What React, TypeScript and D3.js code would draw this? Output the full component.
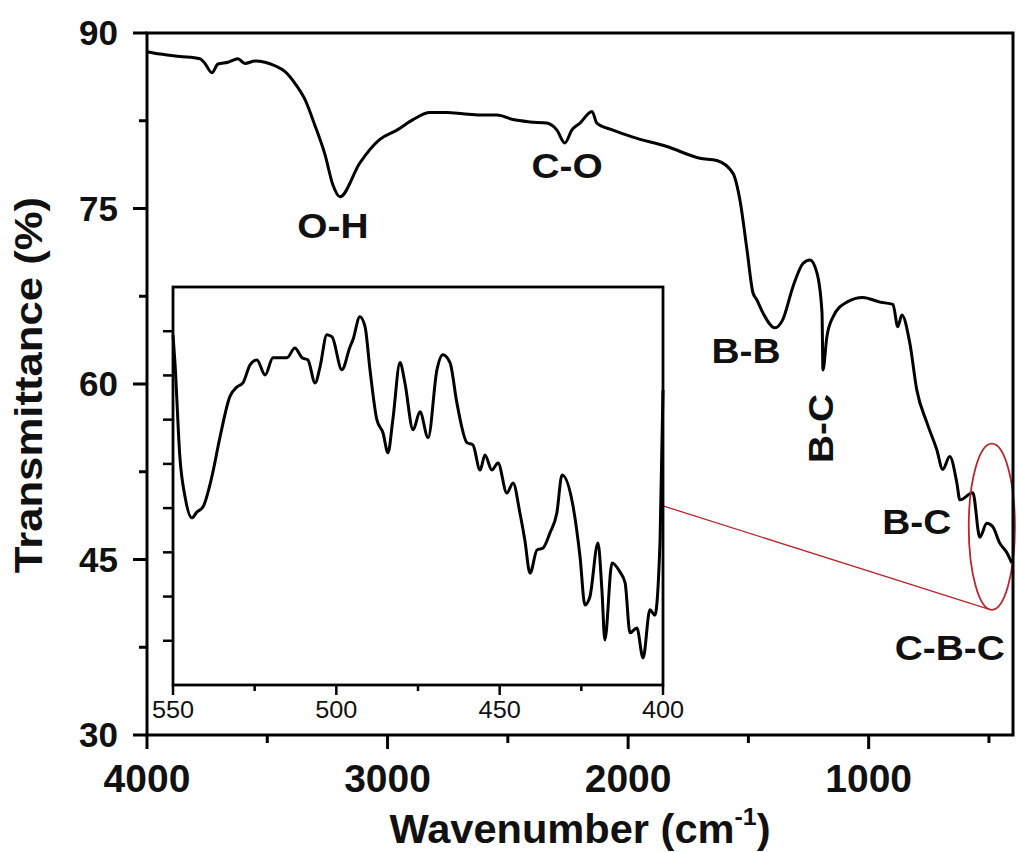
import React from 'react';
import * as d3 from 'd3';

// main FTIR spectrum
const wavenumber = [4000, 3946, 3863, 3780, 3759, 3730, 3705, 3663, 3622, 3593, 3551, 3510, 3468, 3426, 3385, 3343, 3302, 3260, 3227, 3198, 3115, 3032, 2961, 2894, 2824, 2753, 2687, 2616, 2545, 2479, 2408, 2338, 2296, 2263, 2234, 2200, 2150, 2130, 2063, 1980, 1839, 1702, 1631, 1564, 1535, 1506, 1481, 1465, 1440, 1390, 1357, 1315, 1273, 1244, 1215, 1194, 1190, 1174, 1149, 1091, 1024, 953, 899, 879, 862, 829, 800, 758, 717, 692, 663, 633, 621, 567, 538, 509, 484, 455, 426, 405];
const transmittance = [88.4, 88.2, 88.0, 87.8, 87.4, 86.6, 87.35, 87.5, 87.8, 87.4, 87.6, 87.5, 87.2, 86.7, 85.7, 84.3, 82.1, 79.6, 77.0, 76.0, 78.9, 80.9, 81.7, 82.6, 83.2, 83.2, 83.1, 83.0, 83.0, 82.6, 82.4, 82.3, 81.7, 80.6, 81.7, 82.3, 83.3, 82.3, 81.7, 81.1, 80.3, 79.3, 79.1, 78.0, 75.7, 71.5, 67.8, 67.2, 66.1, 64.8, 65.5, 68.3, 70.3, 70.6, 69.5, 66.1, 61.2, 64.0, 65.7, 67.0, 67.4, 67.0, 66.8, 64.9, 65.9, 63.5, 59.5, 56.7, 54.4, 52.7, 53.8, 51.5, 50.1, 50.7, 46.9, 48.1, 47.8, 46.4, 45.6, 44.7];

// zoomed 550-400 region (arbitrary units, no labels on the inset y axis)
const insetWavenumber = [550, 549.4, 547.9, 546.3, 544.2, 542.7, 540.8, 538.1, 535.6, 532.6, 530.4, 528.6, 526.4, 524.3, 521.8, 519.4, 515.1, 512.7, 510.5, 508.7, 506.5, 505.0, 502.9, 501.3, 498.3, 495.8, 494.9, 492.8, 491.2, 489.7, 487.6, 485.7, 484.2, 482.7, 480.5, 479.0, 476.5, 474.4, 471.9, 469.2, 467.4, 465.2, 463.1, 460.0, 458.2, 456.0, 454.5, 452.4, 450.5, 447.8, 445.9, 443.8, 442.3, 440.7, 438.6, 436.7, 434.6, 432.5, 430.9, 427.6, 425.4, 423.9, 422.4, 419.9, 418.7, 417.8, 415.6, 413.2, 411.6, 410.1, 408.0, 406.1, 404.0, 402.5, 400.9, 400];
const insetSignal = [7.92, 7.29, 5.16, 4.25, 3.78, 3.91, 4.03, 4.71, 5.61, 6.52, 6.74, 6.83, 7.24, 7.35, 7.01, 7.40, 7.40, 7.62, 7.40, 7.35, 6.83, 7.19, 7.92, 7.87, 7.13, 7.65, 7.81, 8.33, 8.10, 7.13, 6.00, 5.70, 5.25, 6.00, 7.29, 6.83, 5.77, 6.18, 5.59, 7.13, 7.47, 7.29, 6.38, 5.48, 5.43, 4.86, 5.20, 4.86, 5.02, 4.34, 4.57, 3.89, 3.28, 2.53, 3.05, 3.10, 3.44, 3.89, 4.75, 4.07, 2.90, 1.81, 1.99, 3.21, 2.15, 1.02, 2.76, 2.56, 2.31, 1.18, 1.29, 0.61, 1.70, 1.58, 3.28, 6.67];

const xTicks = [4000, 3000, 2000, 1000];
const xMinor = [3500, 2500, 1500, 500];
const yTicks = [90, 75, 60, 45, 30];
const yMinor = [82.5, 67.5, 52.5, 37.5];
const insetXTicks = [550, 500, 450, 400];
const insetXMinor = [525, 475, 425];
const insetYTicks = [1, 2, 3, 4, 5, 6, 7, 8];

// band assignments: label, wavenumber, transmittance of text baseline, rotated?
const bandLabels = ['O-H', 'C-O', 'B-B', 'B-C', 'B-C', 'C-B-C'];
const bandWn = [3227, 2254, 1510, 1149, 800, 663];
const bandT = [72.5, 77.6, 61.8, 56.2, 47.2, 36.4];
const bandRotated = [false, false, false, true, false, false];

const font = '"Liberation Sans", Arial, Helvetica, sans-serif';

export default function App() {
  const W = 1017, H = 852;
  const x = d3.scaleLinear().domain([4000, 400]).range([147, 1013]);
  const y = d3.scaleLinear().domain([30, 90]).range([735, 33]);
  const ix = d3.scaleLinear().domain([550, 400]).range([173, 663]);
  const iy = d3.scaleLinear().domain([0, 9]).range([685, 287]);

  const line = d3.line<number>()
    .x((d, i) => x(wavenumber[i]))
    .y(d => y(d))
    .curve(d3.curveMonotoneX);
  const insetLine = d3.line<number>()
    .x((d, i) => ix(insetWavenumber[i]))
    .y(d => iy(d))
    .curve(d3.curveMonotoneX);

  // red ellipse marking the 550-400 region
  const ecx = x(488), ecy = y(47.8);
  const erx = x(400) - x(496), ery = y(40.7) - y(47.8);

  return (
    <svg width={W} height={H} viewBox={`0 0 ${W} ${H}`}
      style={{ position: 'absolute', left: 0, top: 0, background: '#fff' }}
      fontFamily={font}>
      <rect width={W} height={H} fill="#fff" />

      {/* main axes */}
      <g stroke="#000" strokeWidth={3}>
        {xTicks.map(t => <line key={t} x1={x(t)} x2={x(t)} y1={735} y2={749} />)}
        {xMinor.map(t => <line key={t} x1={x(t)} x2={x(t)} y1={735} y2={743} />)}
        {yTicks.map(t => <line key={t} x1={133} x2={147} y1={y(t)} y2={y(t)} />)}
        {yMinor.map(t => <line key={t} x1={139} x2={147} y1={y(t)} y2={y(t)} />)}
      </g>
      <g fontWeight="bold" fill="#111">
        {xTicks.map(t => (
          <text key={t} x={x(t)} y={792} fontSize={39} textAnchor="middle">{t}</text>
        ))}
        {yTicks.map(t => (
          <text key={t} x={118} y={y(t) + 12} fontSize={35} textAnchor="end">{t}</text>
        ))}
        <text transform="translate(580,843) scale(1.04,1)" fontSize={40} textAnchor="middle">
          Wavenumber (cm<tspan fontSize={24} dy={-18}>-1</tspan><tspan dy={18}>)</tspan>
        </text>
        <text transform="translate(42,385) rotate(-90) scale(1.15,1)" fontSize={38} textAnchor="middle">
          Transmittance (%)
        </text>
      </g>

      <path d={line(transmittance) || ''} fill="none" stroke="#000" strokeWidth={3} strokeLinejoin="round" />

      {/* band labels */}
      <g fontWeight="bold" fill="#111" fontSize={36}>
        {bandLabels.map((b, i) => (
          <text key={i} textAnchor="middle"
            transform={`translate(${x(bandWn[i])},${y(bandT[i])})${bandRotated[i] ? ' rotate(-90)' : ''} scale(1.08,1)`}>
            {b}
          </text>
        ))}
      </g>

      {/* zoom marker */}
      <ellipse cx={ecx} cy={ecy} rx={erx} ry={ery} fill="none" stroke="#b8262f" strokeWidth={1.8} />
      <line x1={ix(400)} y1={iy(4.05)} x2={ecx - 4} y2={ecy + ery - 1} stroke="#b8262f" strokeWidth={1.3} />

      {/* inset */}
      <rect x={173} y={287} width={490} height={398} fill="#fff" stroke="#000" strokeWidth={2.8} />
      <g stroke="#000" strokeWidth={2.5}>
        {insetXTicks.map(t => <line key={t} x1={ix(t)} x2={ix(t)} y1={685} y2={695} />)}
        {insetXMinor.map(t => <line key={t} x1={ix(t)} x2={ix(t)} y1={685} y2={691} />)}
        {insetYTicks.map(t => <line key={t} x1={163} x2={173} y1={iy(t)} y2={iy(t)} />)}
      </g>
      <g fill="#111" fontSize={23}>
        {insetXTicks.map(t => (
          <text key={t} transform={`translate(${ix(t)},718) scale(1.1,1)`} textAnchor="middle">{t}</text>
        ))}
      </g>
      <path d={insetLine(insetSignal) || ''} fill="none" stroke="#000" strokeWidth={3} strokeLinejoin="round" />

      {/* frame on top */}
      <rect x={147} y={33} width={866} height={702} fill="none" stroke="#000" strokeWidth={3} />
    </svg>
  );
}
